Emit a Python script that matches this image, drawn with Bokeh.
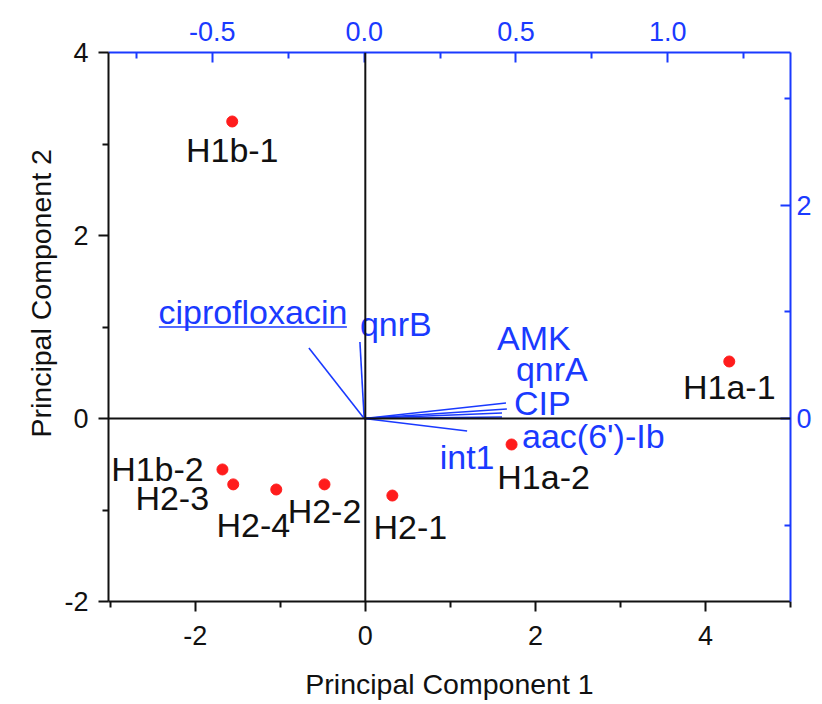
from bokeh.plotting import figure
from bokeh.models import Range1d, LinearAxis, FixedTicker, NumeralTickFormatter, Span, ColumnDataSource, Title
from bokeh.core.properties import value
from bokeh.embed import file_html
from bokeh.resources import INLINE

# ---- data: sample scores (bottom/left axes) ----
samples = ["H1b-1", "H1a-1", "H1a-2", "H2-1", "H2-2", "H2-4", "H2-3", "H1b-2"]
pc1 = [-1.565, 4.28, 1.72, 0.318, -0.48, -1.047, -1.553, -1.68]
pc2 = [3.246, 0.623, -0.284, -0.842, -0.72, -0.776, -0.72, -0.557]

# ---- data: loadings (top/right axes) ----
variables = ["ciprofloxacin", "qnrB", "AMK", "qnrA", "CIP", "aac(6')-Ib", "int1"]
load1 = [-0.182, -0.014, 0.467, 0.470, 0.454, 0.454, 0.339]
load2 = [0.662, 0.718, 0.146, 0.089, 0.052, 0.014, -0.117]

# tick values
bottom_ticks = [-2, 0, 2, 4]
left_ticks = [-2, 0, 2, 4]
top_ticks = [-0.5, 0.0, 0.5, 1.0]
right_ticks = [0, 2]

x_title = "Principal Component 1"
y_title = "Principal Component 2"

# ---- styling / layout ----
BLUE = "#1a3aff"
RED = "#ff1c1c"
FONT = "Liberation Sans"
FW, FH = 682, 549
XR = (-3.02, 5.0)
YR = (-2.0, 4.0)
TXR = (-0.842, 1.404)
RYR = (-1.718, 3.436)

# label offsets in screen pixels (style)
s_dx = [0, 0, 32, 18, 0, -23, -61, -65]
s_dy = [29, 26, 33, 31, 27, 35, 14, 0]
v_dx = [-56, 0, -9, 9, 12, 20, 0]
v_dy = [-36, -18, -65, -40, -10, 19, 26]
v_align = ["center", "left", "left", "left", "left", "left", "center"]

p = figure(width=818, height=704, output_backend="svg", toolbar_location=None,
           x_range=Range1d(*XR), y_range=Range1d(*YR),
           min_border_left=108, min_border_top=52, min_border_right=28, min_border_bottom=103)
p.extra_x_ranges = {"top": Range1d(*TXR)}
p.extra_y_ranges = {"right": Range1d(*RYR)}
p.grid.visible = False
p.outline_line_color = None
p.background_fill_color = "white"
p.border_fill_color = "white"

def style_axis(ax, color, inward):
    ax.axis_line_color = color
    ax.axis_line_width = 2
    ax.major_tick_line_color = color
    ax.minor_tick_line_color = color
    ax.major_tick_line_width = 2
    ax.minor_tick_line_width = 2
    if inward:
        ax.major_tick_in = 10
        ax.major_tick_out = 0
        ax.minor_tick_in = 6
        ax.minor_tick_out = 0
    else:
        ax.major_tick_in = 0
        ax.major_tick_out = 10
        ax.minor_tick_in = 0
        ax.minor_tick_out = 6
    ax.major_label_text_font = FONT
    ax.major_label_text_font_size = "27px"
    ax.major_label_text_color = color
    ax.axis_label_text_font = FONT
    ax.axis_label_text_font_size = "28.5px"
    ax.axis_label_text_font_style = "normal"
    ax.axis_label_text_color = "#111111"

xb = p.xaxis[0]
xb.ticker = FixedTicker(ticks=bottom_ticks, minor_ticks=[-3, -1, 1, 3, 5])
xb.formatter = NumeralTickFormatter(format="0")
xb.axis_label = x_title
style_axis(xb, "#111111", False)
xb.major_label_standoff = 14
xb.axis_label_standoff = 20

yl = p.yaxis[0]
yl.ticker = FixedTicker(ticks=left_ticks, minor_ticks=[-1, 1, 3])
yl.formatter = NumeralTickFormatter(format="0")
style_axis(yl, "#111111", False)
yl.major_label_standoff = 10

# left title as a side title, shifted upward (as in the source figure)
ytitle = Title(text=y_title, align="left", offset=164, text_font=FONT, text_font_size="28.5px",
               text_font_style="normal", text_color="#111111")
p.add_layout(ytitle, "left")

xt = LinearAxis(x_range_name="top", ticker=FixedTicker(ticks=top_ticks, minor_ticks=[-0.75, -0.25, 0.25, 0.75, 1.25]),
                formatter=NumeralTickFormatter(format="0.0"))
style_axis(xt, BLUE, True)
xt.major_label_standoff = 12
p.add_layout(xt, "above")

yr = LinearAxis(y_range_name="right", ticker=FixedTicker(ticks=right_ticks, minor_ticks=[-1, 1, 3]),
                formatter=NumeralTickFormatter(format="0"))
style_axis(yr, BLUE, True)
yr.major_label_standoff = 6
p.add_layout(yr, "right")

p.add_layout(Span(location=0, dimension="width", line_color="#111111", line_width=2))
p.add_layout(Span(location=0, dimension="height", line_color="#111111", line_width=2))

# loadings vectors
vsrc = ColumnDataSource(dict(x0=[0.0] * len(variables), y0=[0.0] * len(variables),
                             x1=load1, y1=load2, name=variables, dx=v_dx, dy=v_dy, al=v_align))
p.segment(x0="x0", y0="y0", x1="x1", y1="y1", source=vsrc, x_range_name="top", y_range_name="right",
          line_color=BLUE, line_width=1.6)
p.text(x="x1", y="y1", text="name", source=vsrc, x_range_name="top", y_range_name="right",
       x_offset="dx", y_offset="dy", text_align="al", text_baseline="middle",
       text_font=value(FONT), text_font_size="34px", text_color=BLUE)

# underline of "ciprofloxacin" label (decoration, computed from label anchor)
px_x = FW / (TXR[1] - TXR[0])
px_y = FH / (RYR[1] - RYR[0])
ul_half = 94 / px_x
ux = load1[0] + v_dx[0] / px_x
uy = load2[0] - (v_dy[0] + 15) / px_y
p.segment(x0=[ux - ul_half], y0=[uy], x1=[ux + ul_half], y1=[uy], x_range_name="top", y_range_name="right",
          line_color=BLUE, line_width=1.5)

# scores
ssrc = ColumnDataSource(dict(x=pc1, y=pc2, name=samples, dx=s_dx, dy=s_dy))
p.scatter(x="x", y="y", source=ssrc, size=11, fill_color=RED, line_color=RED)
p.text(x="x", y="y", text="name", source=ssrc, x_offset="dx", y_offset="dy",
       text_align="center", text_baseline="middle",
       text_font=value(FONT), text_font_size="34px", text_color="#111111")

open("out.html", "w").write(file_html(p, INLINE))
